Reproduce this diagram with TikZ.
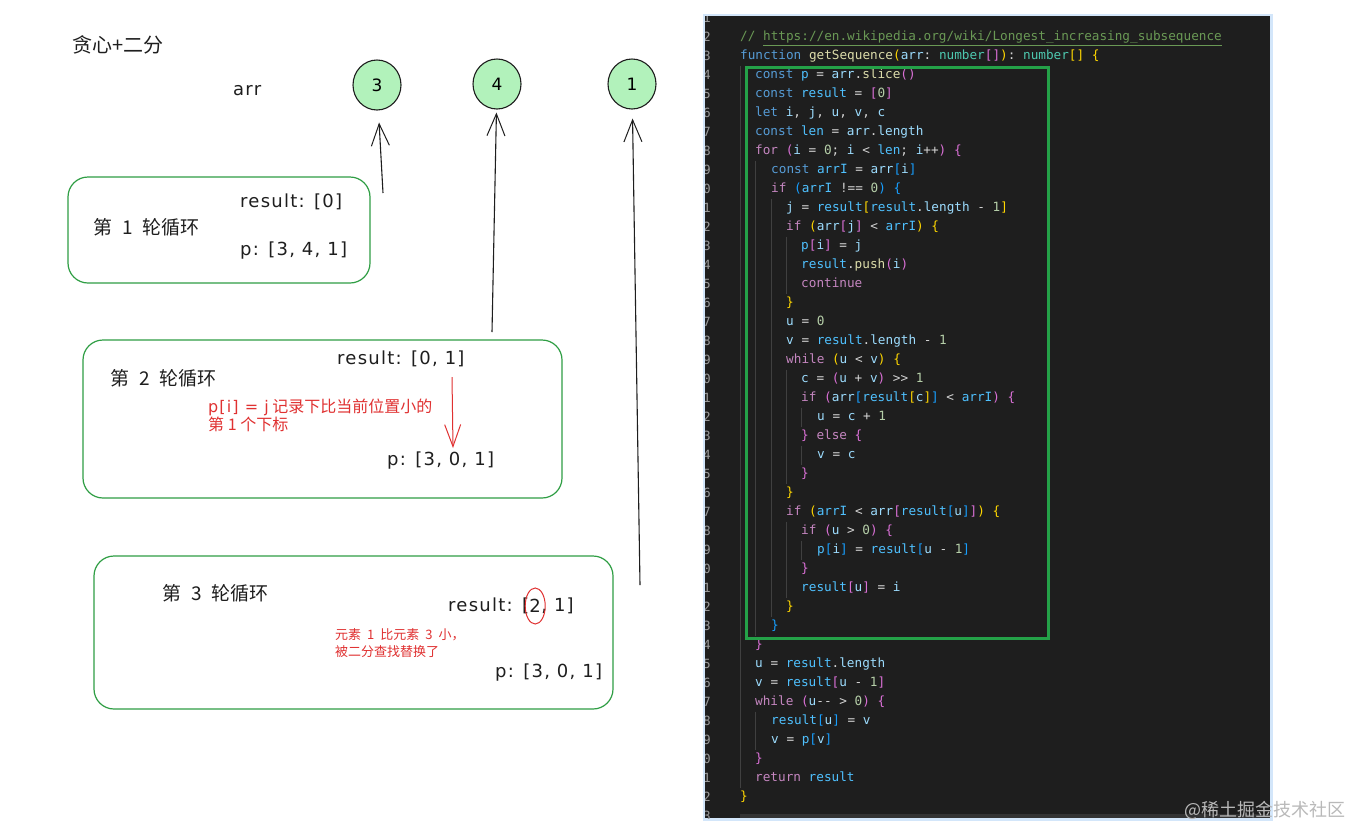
\documentclass[tikz,border=0pt]{standalone}
\usepackage{fontspec}
\setmainfont{Noto Sans CJK SC}
\setmonofont{DejaVu Sans Mono}
\newfontfamily\latn[LetterSpace=7]{DejaVu Sans}
\usetikzlibrary{arrows.meta,shapes.geometric}

\definecolor{ink}{HTML}{1E1E1E}
\definecolor{boxgreen}{HTML}{2F9E44}
\definecolor{elemfill}{HTML}{B2F2BB}
\definecolor{notered}{HTML}{E03131}
\definecolor{panel}{HTML}{1E1E1E}
\definecolor{glow}{HTML}{D3E6FA}
\definecolor{frame}{HTML}{24A148}
\definecolor{cop}{HTML}{D4D4D4}
\definecolor{ckw}{HTML}{569CD6}
\definecolor{cctl}{HTML}{C586C0}
\definecolor{cvar}{HTML}{9CDCFE}
\definecolor{ccst}{HTML}{4FC1FF}
\definecolor{cfun}{HTML}{DCDCAA}
\definecolor{ctyp}{HTML}{4EC9B0}
\definecolor{cnum}{HTML}{B5CEA8}
\definecolor{ccom}{HTML}{6A9955}
\definecolor{bra}{HTML}{FFD700}
\definecolor{brb}{HTML}{DA70D6}
\definecolor{brc}{HTML}{179FFF}

% token colours of the code panel
\newcommand\xk[1]{\textcolor{ckw}{#1}}
\newcommand\xc[1]{\textcolor{cctl}{#1}}
\newcommand\xv[1]{\textcolor{cvar}{#1}}
\newcommand\xn[1]{\textcolor{ccst}{#1}}
\newcommand\xf[1]{\textcolor{cfun}{#1}}
\newcommand\xt[1]{\textcolor{ctyp}{#1}}
\newcommand\xd[1]{\textcolor{cnum}{#1}}
\newcommand\xa[1]{\textcolor{bra}{#1}}
\newcommand\xb[1]{\textcolor{brb}{#1}}
\newcommand\xe[1]{\textcolor{brc}{#1}}
\newcommand\gap{\hspace{10pt}}

\tikzset{
  hand/.style={anchor=west, inner sep=0pt, text=ink, font=\latn\fontsize{18}{21}\selectfont},
  roundlab/.style={anchor=west, inner sep=0pt, text=ink, font=\fontsize{19}{21}\selectfont},
  note/.style={anchor=west, inner sep=0pt, text=notered, align=left},
  loopbox/.style={draw=boxgreen, line width=1.2pt, rounded corners=20pt, inner sep=0pt},
  elem/.style={ellipse, draw=ink, fill=elemfill, line width=1.1pt, minimum width=48pt, minimum height=50pt, inner sep=0pt, font=\latn\fontsize{17}{20}\selectfont},
  arr/.style={draw=ink, line width=1.1pt, -{Straight Barb[length=22pt,width=18pt,line width=1pt]}},
  redarr/.style={draw=notered, line width=1pt, -{Straight Barb[length=22pt,width=16pt,line width=1pt]}},
  code/.style={anchor=west, inner sep=0pt, text=cop, text height=10pt, text depth=3pt, font=\ttfamily\fontsize{12.7}{15}\selectfont},
  lnum/.style={inner sep=0pt, text=gray!80, font=\ttfamily\fontsize{12.7}{15}\selectfont},
  guide/.style={draw=white!25!black, line width=0.8pt},
}

\begin{document}
\begin{tikzpicture}[x=1pt,y=-1pt]
\useasboundingbox (0,0) rectangle (1352,828);
\fill[white] (0,0) rectangle (1352,828);

% left: sketch
\node[roundlab, font=\fontsize{20}{22}\selectfont] (title) at (72,45) {贪心+二分};
\node[hand] (arrlabel) at (233,91) {arr};
\node[elem] (a1) at (377,85) {3};
\node[elem] (a2) at (497,84) {4};
\node[elem] (a3) at (632,84) {1};

\coordinate (t1) at (383,193);
\coordinate (t2) at (492,332);
\coordinate (t3) at (640,585);
\draw[arr, shorten >=12pt] (t1) -- (a1);
\draw[arr, shorten >=3pt] (t2) -- (a2);
\draw[arr, shorten >=9pt] (t3) -- (a3);

% round 1
\node[loopbox, minimum width=302pt, minimum height=106pt] (r1) at (219,230) {};
\node[hand] (res1) at (240,202) {result: [0]};
\node[roundlab] (lab1) at (93,227) {第\gap 1\gap 轮循环};
\node[hand] (p1) at (240,251) {p: [3, 4, 1]};

% round 2
\node[loopbox, minimum width=479pt, minimum height=158pt] (r2) at (322.5,419) {};
\node[hand] (res2) at (337,359) {result: [0, 1]};
\node[roundlab] (lab2) at (110,378) {第\gap 2\gap 轮循环};
\node[note, font=\fontsize{16}{18}\selectfont] (n2) at (208,415) {{\latn p[i] = j} 记录下比当前位置小的\\第 1 个下标};
\node[hand] (p2) at (387,461) {p: [3, 0, 1]};
\coordinate (d1) at (452,377);
\coordinate (d2) at (453,448);
\draw[redarr] (d1) -- (d2);

% round 3
\node[loopbox, minimum width=519pt, minimum height=153pt] (r3) at (353.5,632.5) {};
\node[roundlab] (lab3) at (162,593) {第\gap 3\gap 轮循环};
\node[hand] (res3) at (448,606) {result: [};
\node[hand] (two) at (res3.east) {2};
\node[hand] (res3b) at (two.east) {, 1]};
\draw[notered, line width=1pt] (two.center) ellipse (10pt and 18pt);
\node[note, font=\fontsize{13}{17}\selectfont] (n3) at (335,643) {元素\hspace{6pt}1\hspace{6pt}比元素\hspace{6pt}3\hspace{6pt}小，\\被二分查找替换了};
\node[hand] (p3) at (495,673) {p: [3, 0, 1]};

% right: code panel
\draw[glow, line width=5pt] (705,16) rectangle (1270,818);
\fill[panel] (705,16) rectangle (1270,818);
\begin{scope}
\clip (705,16) rectangle (1270,818);
\fill[white!20!black] (740,814) rectangle (1270,818);
\foreach \n in {1,...,43} {
  \pgfmathtruncatemacro\dig{mod(\n,10)}
  \node[lnum] (ln\n) at (707,{18+(\n-1)*19}) {\dig};
}
% indent guides
\foreach \gx/\ga/\gb in {740/4/41, 755/9/33, 771/11/32, 786/13/15, 786/20/25, 786/28/31, 801/22/22, 801/24/24, 801/29/29, 755/38/39}
  \draw[guide] (\gx,{18+(\ga-1)*19-9.5}) -- (\gx,{18+(\gb-1)*19+9.5});

\node[code] (l2) at (740,37) {\textcolor{ccom}{// \underline{https://en.wikipedia.org/wiki/Longest\_increasing\_subsequence}}};
\node[code] (l3) at (740,56) {\xk{function} \xf{getSequence}\xa{(}\xv{arr}: \xt{number}\xb{[]}\xa{)}: \xt{number}\xa{[]} \xa{\{}};
\node[code] (l4) at (755,75) {\xk{const} \xn{p} = \xv{arr}.\xf{slice}\xb{()}};
\node[code] (l5) at (755,94) {\xk{const} \xn{result} = \xb{[}\xd{0}\xb{]}};
\node[code] (l6) at (755,113) {\xk{let} \xv{i}, \xv{j}, \xv{u}, \xv{v}, \xv{c}};
\node[code] (l7) at (755,132) {\xk{const} \xn{len} = \xv{arr}.\xv{length}};
\node[code] (l8) at (755,151) {\xc{for} \xb{(}\xv{i} = \xd{0}; \xv{i} < \xn{len}; \xv{i}++\xb{)} \xb{\{}};
\node[code] (l9) at (771,170) {\xk{const} \xn{arrI} = \xv{arr}\xe{[}\xv{i}\xe{]}};
\node[code] (l10) at (771,189) {\xc{if} \xe{(}\xn{arrI} !== \xd{0}\xe{)} \xe{\{}};
\node[code] (l11) at (786,208) {\xv{j} = \xn{result}\xa{[}\xn{result}.\xv{length} - \xd{1}\xa{]}};
\node[code] (l12) at (786,227) {\xc{if} \xa{(}\xv{arr}\xb{[}\xv{j}\xb{]} < \xn{arrI}\xa{)} \xa{\{}};
\node[code] (l13) at (801,246) {\xn{p}\xb{[}\xv{i}\xb{]} = \xv{j}};
\node[code] (l14) at (801,265) {\xn{result}.\xf{push}\xb{(}\xv{i}\xb{)}};
\node[code] (l15) at (801,284) {\xc{continue}};
\node[code] (l16) at (786,303) {\xa{\}}};
\node[code] (l17) at (786,322) {\xv{u} = \xd{0}};
\node[code] (l18) at (786,341) {\xv{v} = \xn{result}.\xv{length} - \xd{1}};
\node[code] (l19) at (786,360) {\xc{while} \xa{(}\xv{u} < \xv{v}\xa{)} \xa{\{}};
\node[code] (l20) at (801,379) {\xv{c} = \xb{(}\xv{u} + \xv{v}\xb{)} >> \xd{1}};
\node[code] (l21) at (801,398) {\xc{if} \xb{(}\xv{arr}\xe{[}\xn{result}\xa{[}\xv{c}\xa{]}\xe{]} < \xn{arrI}\xb{)} \xb{\{}};
\node[code] (l22) at (817,417) {\xv{u} = \xv{c} + \xd{1}};
\node[code] (l23) at (801,436) {\xb{\}} \xc{else} \xb{\{}};
\node[code] (l24) at (817,455) {\xv{v} = \xv{c}};
\node[code] (l25) at (801,474) {\xb{\}}};
\node[code] (l26) at (786,493) {\xa{\}}};
\node[code] (l27) at (786,512) {\xc{if} \xa{(}\xn{arrI} < \xv{arr}\xb{[}\xn{result}\xe{[}\xv{u}\xe{]}\xb{]}\xa{)} \xa{\{}};
\node[code] (l28) at (801,531) {\xc{if} \xb{(}\xv{u} > \xd{0}\xb{)} \xb{\{}};
\node[code] (l29) at (817,550) {\xn{p}\xe{[}\xv{i}\xe{]} = \xn{result}\xe{[}\xv{u} - \xd{1}\xe{]}};
\node[code] (l30) at (801,569) {\xb{\}}};
\node[code] (l31) at (801,588) {\xn{result}\xb{[}\xv{u}\xb{]} = \xv{i}};
\node[code] (l32) at (786,607) {\xa{\}}};
\node[code] (l33) at (771,626) {\xe{\}}};
\node[code] (l34) at (755,645) {\xb{\}}};
\node[code] (l35) at (755,664) {\xv{u} = \xn{result}.\xv{length}};
\node[code] (l36) at (755,683) {\xv{v} = \xn{result}\xb{[}\xv{u} - \xd{1}\xb{]}};
\node[code] (l37) at (755,702) {\xc{while} \xb{(}\xv{u}-{}- > \xd{0}\xb{)} \xb{\{}};
\node[code] (l38) at (771,721) {\xn{result}\xe{[}\xv{u}\xe{]} = \xv{v}};
\node[code] (l39) at (771,740) {\xv{v} = \xn{p}\xe{[}\xv{v}\xe{]}};
\node[code] (l40) at (755,759) {\xb{\}}};
\node[code] (l41) at (755,778) {\xc{return} \xn{result}};
\node[code] (l42) at (740,797) {\xa{\}}};
\end{scope}

% loop body frame
\draw[frame, line width=3pt] (746,67) rectangle (1048,638);

\node[inner sep=0pt, text=gray!55, font=\fontsize{18}{20}\selectfont] (mark) at (1265,810) {@稀土掘金技术社区};
\end{tikzpicture}
\end{document}
